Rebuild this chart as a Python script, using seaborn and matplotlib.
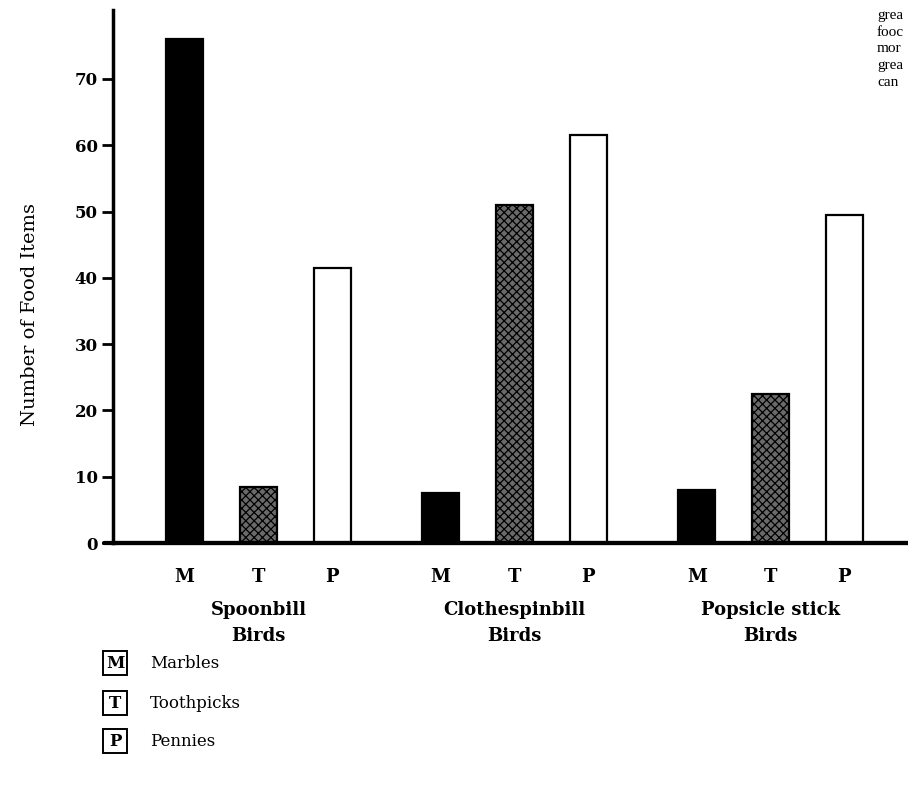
import numpy as np
import pandas as pd
import matplotlib
matplotlib.use("Agg")
import matplotlib.pyplot as plt
import matplotlib.transforms as mtransforms
from matplotlib.patches import Rectangle
import seaborn as sns

# ---- data ----
groups = ["Spoonbill\nBirds", "Clothespinbill\nBirds", "Popsicle stick\nBirds"]
items = ["M", "T", "P"]
item_names = ["Marbles", "Toothpicks", "Pennies"]
spoonbill = [76, 8.5, 41.5]
clothespinbill = [7.5, 51, 61.5]
popsicle = [8, 22.5, 49.5]
yticks = [0, 10, 20, 30, 40, 50, 60, 70]
side_words = ["grea", "fooc", "mor", "grea", "can"]   # text cut by the page edge

df = pd.DataFrame({
    "group": np.repeat(groups, len(items)),
    "item": items * len(groups),
    "count": spoonbill + clothespinbill + popsicle,
})

sns.set_theme(style="white")
plt.rcParams["font.family"] = ["DejaVu Serif", "Liberation Serif"]
plt.rcParams["hatch.linewidth"] = 0.9
plt.rcParams["text.color"] = "black"
plt.rcParams["xtick.color"] = "black"
plt.rcParams["ytick.color"] = "black"

W, H = 908, 809
fig = plt.figure(figsize=(W / 100, H / 100), dpi=100)
ax = fig.add_axes([113 / W, 1 - 543 / H, 1 - 113 / W, (543 - 10) / H])

sns.barplot(data=df, x="group", y="count", hue="item", hue_order=items,
            order=groups, width=0.864, gap=0.5, legend=False, ax=ax,
            palette=["black", "#707070", "white"], saturation=1, errorbar=None)

styles = [
    dict(facecolor="black", edgecolor="black", hatch=None),
    dict(facecolor="#6a6a6a", edgecolor="black", hatch="xxxx"),
    dict(facecolor="white", edgecolor="black", hatch=None),
]
for cont, st in zip(ax.containers, styles):
    for bar in cont:
        bar.set_facecolor(st["facecolor"])
        bar.set_edgecolor(st["edgecolor"])
        bar.set_linewidth(1.6)
        if st["hatch"]:
            bar.set_hatch(st["hatch"])

ax.set_ylim(0, 80.4)
ax.set_xlim(-0.568, 2.537)

# x tick labels M/T/P at each bar centre
xt, xl = [], []
for ci, cont in enumerate(ax.containers):
    for bar in cont:
        xt.append(bar.get_x() + bar.get_width() / 2)
        xl.append(items[ci])
order = np.argsort(xt)
ax.set_xticks(np.array(xt)[order])
ax.set_xticklabels(np.array(xl)[order], fontsize=13, fontweight="bold")
ax.tick_params(axis="x", length=0, pad=18)

ax.set_yticks(yticks)
ax.set_yticklabels([str(v) for v in yticks], fontsize=12, fontweight="bold")
ax.tick_params(axis="y", direction="out", length=8, width=2, pad=3, left=True)

ax.set_xlabel("")
ax.set_ylabel("")
for s in ["top", "right"]:
    ax.spines[s].set_visible(False)
ax.spines["left"].set_linewidth(2.5)
ax.spines["bottom"].set_linewidth(3)
ax.spines["left"].set_color("black")
ax.spines["bottom"].set_color("black")
# baseline pokes a little left of the y axis, as in the print
ax.axhline(0, xmin=-0.011, xmax=1, color="black", lw=3, clip_on=False)

# group labels
trans = mtransforms.blended_transform_factory(ax.transData, fig.transFigure)
for gi, g in enumerate(groups):
    first, second = g.split("\n")
    ax.text(gi, 1 - 610 / H, first, transform=trans, ha="center", va="center",
            fontsize=13, fontweight="bold")
    ax.text(gi, 1 - 636 / H, second, transform=trans, ha="center", va="center",
            fontsize=13, fontweight="bold")

fig.text(30 / W, 1 - 315 / H, "Number of Food Items", rotation=90,
         ha="center", va="center", fontsize=14)

# legend drawn by hand
for i, (code, name) in enumerate(zip(items, item_names)):
    yc = [663, 703, 741][i]
    fig.patches.append(Rectangle((103 / W, 1 - (yc + 12) / H), 24 / W, 24 / H,
                                 transform=fig.transFigure, facecolor="white",
                                 edgecolor="black", linewidth=1.4))
    fig.text(115 / W, 1 - yc / H, code, ha="center", va="center",
             fontsize=12, fontweight="bold")
    fig.text(150 / W, 1 - yc / H, name, ha="left", va="center", fontsize=12)

# text fragments from the neighbouring column (cut by the page edge)
for i, w in enumerate(side_words):
    fig.text(877 / W, 1 - (15 + 17 * i) / H, w, ha="left", va="center",
             fontsize=11, family=["Liberation Serif", "DejaVu Serif"])

fig.savefig("out.png", dpi=100)
